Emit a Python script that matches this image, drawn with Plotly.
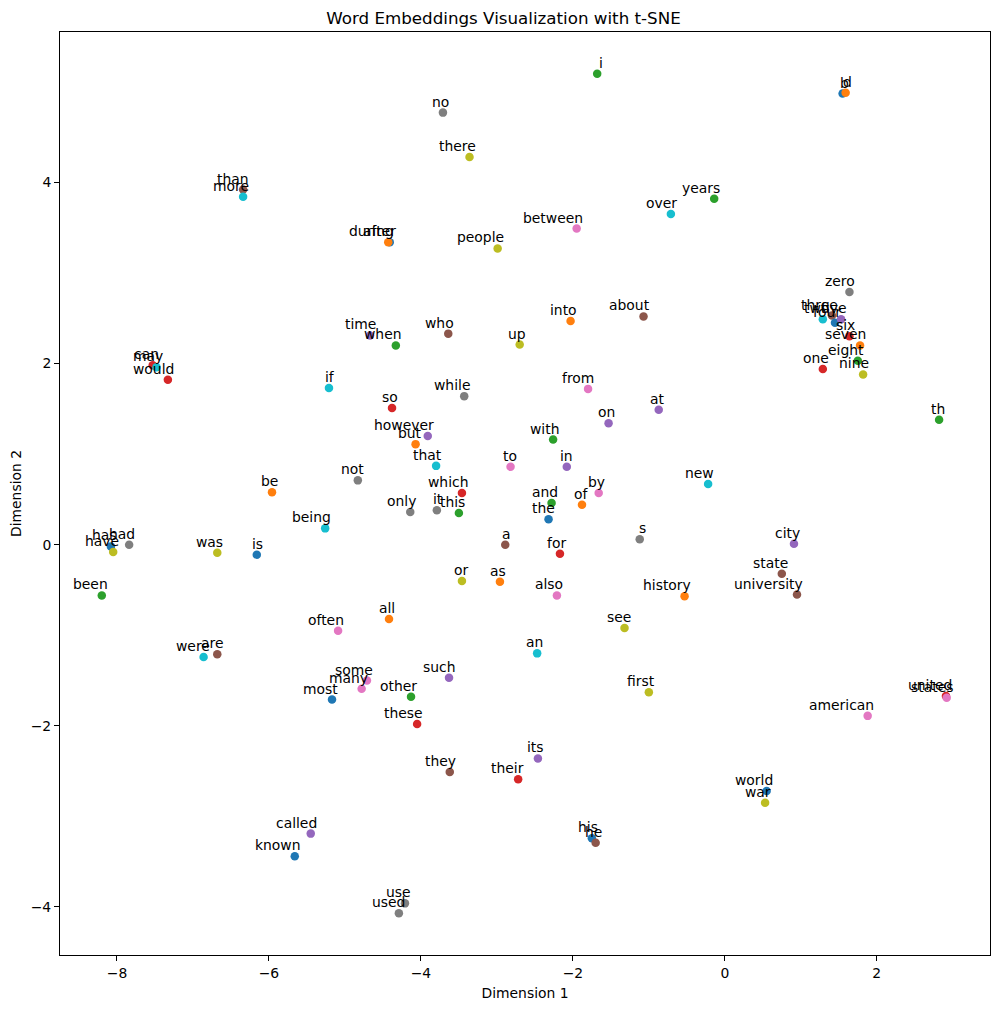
import plotly.graph_objects as go

words = ["i", "b", "d", "no", "there", "than", "more", "years", "over", "between",
         "after", "during", "people", "zero", "into", "about", "time", "who", "when", "up",
         "two", "three", "four", "five", "six", "seven", "eight", "nine", "one",
         "can", "may", "would", "if", "while", "from", "at", "th", "so", "however", "but",
         "on", "with", "that", "to", "in", "new", "not", "be", "which", "by",
         "and", "of", "only", "it", "this", "the", "being", "s", "city", "a",
         "for", "has", "have", "had", "was", "is", "or", "as", "state", "university",
         "history", "also", "been", "all", "often", "see", "an", "were", "are", "such",
         "some", "many", "first", "other", "most", "united", "states", "american", "these", "its",
         "they", "their", "world", "war", "called", "his", "he", "known", "use", "used"]

dim1 = [-1.68, 1.55, 1.59, -3.71, -3.36, -6.34, -6.34, -0.14, -0.71, -1.95,
        -4.41, -4.43, -2.99, 1.64, -2.03, -1.07, -4.67, -3.64, -4.33, -2.70,
        1.29, 1.41, 1.45, 1.53, 1.64, 1.78, 1.75, 1.82, 1.29,
        -7.53, -7.48, -7.33, -5.21, -3.43, -1.80, -0.87, 2.82, -4.38, -3.91, -4.07,
        -1.53, -2.26, -3.80, -2.82, -2.08, -0.22, -4.83, -5.96, -3.46, -1.66,
        -2.28, -1.88, -4.14, -3.79, -3.50, -2.32, -5.26, -1.12, 0.91, -2.89,
        -2.17, -8.08, -8.05, -7.84, -6.68, -6.16, -3.46, -2.96, 0.75, 0.95,
        -0.53, -2.21, -8.20, -4.42, -5.09, -1.32, -2.47, -6.86, -6.68, -3.63,
        -4.71, -4.78, -1.00, -4.13, -5.17, 2.91, 2.92, 1.88, -4.05, -2.46,
        -3.62, -2.72, 0.55, 0.53, -5.45, -1.75, -1.70, -5.66, -4.21, -4.29]

dim2 = [5.20, 4.98, 4.99, 4.77, 4.28, 3.92, 3.84, 3.82, 3.65, 3.49,
        3.34, 3.34, 3.27, 2.79, 2.47, 2.52, 2.31, 2.33, 2.20, 2.21,
        2.49, 2.53, 2.45, 2.49, 2.30, 2.20, 2.03, 1.88, 1.94,
        1.98, 1.96, 1.82, 1.73, 1.64, 1.72, 1.49, 1.38, 1.51, 1.20, 1.11,
        1.34, 1.16, 0.87, 0.86, 0.86, 0.67, 0.71, 0.58, 0.57, 0.57,
        0.46, 0.44, 0.36, 0.38, 0.35, 0.28, 0.18, 0.06, 0.01, 0.00,
        -0.10, -0.02, -0.08, 0.00, -0.09, -0.11, -0.40, -0.41, -0.32, -0.55,
        -0.57, -0.56, -0.56, -0.82, -0.95, -0.92, -1.20, -1.24, -1.21, -1.47,
        -1.50, -1.59, -1.63, -1.68, -1.71, -1.67, -1.69, -1.89, -1.98, -2.36,
        -2.51, -2.59, -2.72, -2.85, -3.19, -3.24, -3.29, -3.44, -3.96, -4.07]

# tab10 cycle index of each point's colour
color_idx = [2, 0, 1, 7, 8, 5, 9, 2, 9, 6,
             0, 1, 8, 7, 1, 5, 4, 5, 2, 8,
             9, 5, 0, 4, 3, 1, 2, 8, 3,
             3, 9, 3, 9, 7, 6, 4, 2, 3, 4, 1,
             4, 2, 9, 6, 4, 9, 7, 1, 3, 6,
             2, 1, 7, 7, 2, 0, 9, 7, 4, 5,
             3, 0, 8, 7, 8, 0, 8, 1, 5, 5,
             1, 6, 2, 1, 6, 8, 9, 9, 5, 4,
             6, 6, 8, 2, 0, 3, 6, 6, 3, 4,
             5, 3, 0, 8, 4, 0, 5, 0, 7, 7]

tab10 = ["#1f77b4", "#ff7f0e", "#2ca02c", "#d62728", "#9467bd",
         "#8c564b", "#e377c2", "#7f7f7f", "#bcbd22", "#17becf"]

xticks = [-8, -6, -4, -2, 0, 2]
yticks = [-4, -2, 0, 2, 4]

def fmt(v):
    return str(v).replace("-", "\u2212")

W, H = 991, 1001  # page body adds an 8px margin

fig = go.Figure()
fig.add_trace(go.Scatter(
    x=dim1, y=dim2, mode="markers",
    marker=dict(size=8.5, color=[tab10[c] for c in color_idx], line=dict(width=0)),
    hovertext=words, showlegend=False))

annotations = []
for w, x, y in zip(words, dim1, dim2):
    annotations.append(dict(
        x=x, y=y, xref="x", yref="y", text=w, showarrow=False,
        xanchor="right", yanchor="bottom", xshift=7, yshift=2,
        borderpad=0,
        font=dict(family="DejaVu Sans", size=13.9, color="black")))

axis_common = dict(showgrid=False, zeroline=False, showline=True, linecolor="black",
                   linewidth=1, mirror=True, ticks="outside", ticklen=5,
                   tickcolor="black", tickfont=dict(size=13.9), automargin=False)

fig.update_layout(
    width=W, height=H,
    margin=dict(l=52, r=9, t=24, b=54),
    plot_bgcolor="white", paper_bgcolor="white",
    font=dict(family="DejaVu Sans", size=13.9, color="black"),
    title=dict(text="Word Embeddings Visualization with t-SNE",
               x=0.5, xanchor="center", y=1 - 10 / H, yanchor="middle",
               font=dict(size=16.7)),
    annotations=annotations,
    xaxis=dict(range=[-8.75, 3.49], tickvals=xticks, ticktext=[fmt(v) for v in xticks],
               title=dict(text="Dimension 1", standoff=8, font=dict(size=13.9)),
               **axis_common),
    yaxis=dict(range=[-4.53, 5.66], tickvals=yticks, ticktext=[fmt(v) for v in yticks],
               title=dict(text="Dimension 2", standoff=10, font=dict(size=13.9)),
               **axis_common),
)

fig.write_html("out.html")
